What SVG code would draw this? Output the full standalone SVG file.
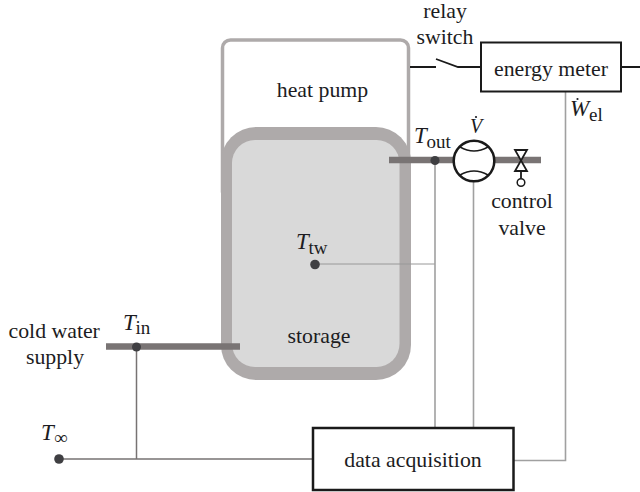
<svg xmlns="http://www.w3.org/2000/svg" width="640" height="492" viewBox="0 0 640 492">
<style>
text{font-family:"Liberation Serif","Times New Roman",serif;font-size:21.800px;fill:#1c1c22}
.m{text-anchor:middle}
.i{font-style:italic;font-size:23px}
.v{font-style:italic;font-size:20px}
.s{font-size:19px}
.thin{fill:none;stroke:#a0a0a0;stroke-width:1.600}
.hair{fill:none;stroke:#989898;stroke-width:1}
.dark{fill:none;stroke:#777373;stroke-width:1.500}
.pipe{fill:none;stroke:#797474;stroke-width:6.500}
.box{fill:#fff;stroke:#1a1a1a;stroke-width:2}
.dot{fill:#3f3f42}
.blk{fill:none;stroke:#1a1a1a;stroke-width:2}
.ov{fill:#1c1c22}
</style>
<g id="heat-pump">
<rect x="222.500" y="40" width="186" height="160" rx="8" fill="#fff" stroke="#aeaaaa" stroke-width="3.500"/>
<text class="m" x="322.500" y="97">heat pump</text>
</g>
<g id="storage">
<rect x="221" y="127" width="190" height="253" rx="35" fill="#aeaaaa"/>
<rect x="232" y="140" width="167.500" height="227" rx="23" fill="#d9d9d9"/>
<text class="m" x="319" y="343">storage</text>
</g>
<g id="connectors">
<path class="hair" d="M315 264H435"/>
<path class="thin" d="M435 160V427M473.500 180V427M565.500 92V460.500H514"/>
<path class="dark" d="M136.500 347V459M59 459H313"/>
<path class="pipe" d="M106 346.500H240M389 160H541"/>
<path class="blk" d="M410 67H436M436 59L458 67H481M621 67H640" style="stroke-width:1.800"/>
</g>
<g id="energy-meter">
<rect class="box" x="481" y="42.500" width="140" height="49"/>
<text class="m" x="551" y="75.500">energy meter</text>
</g>
<g id="data-acquisition">
<rect class="box" x="313" y="428" width="200.500" height="62" style="stroke-width:2.500"/>
<text class="m" x="413" y="467">data acquisition</text>
</g>
<g id="flow-meter">
<circle cx="474" cy="161" r="20.300" fill="#fff" stroke="#1a1a1a" stroke-width="2.500"/>
<path class="blk" d="M460 147Q474 155 488 147M460 175Q474 167 488 175" style="stroke-width:1.500"/>
</g>
<g id="control-valve">
<path d="M515 150H527L515 171H527Z" fill="#fff" stroke="#1a1a1a" stroke-width="1.800"/>
<path class="blk" d="M521 171V178" style="stroke-width:1.800"/>
<circle cx="521" cy="182.500" r="3.800" fill="#fff" stroke="#1a1a1a" stroke-width="1.500"/>
<text class="m" x="522" y="208">control</text>
<text class="m" x="522" y="234.500">valve</text>
</g>
<g id="sensors">
<circle class="dot" cx="435" cy="160.500" r="4.500"/>
<circle class="dot" cx="315" cy="264.500" r="4.800"/>
<circle class="dot" cx="136.500" cy="347" r="4.500"/>
<circle class="dot" cx="59" cy="459" r="4.800"/>
</g>
<g id="labels">
<text class="m" x="445" y="18">relay</text>
<text class="m" x="445" y="44">switch</text>
<text x="8.500" y="338">cold water</text>
<text class="m" x="55" y="364">supply</text>
<text class="i" x="414" y="143">T</text><text class="s" x="426.500" y="148">out</text>
<text class="i" x="296" y="249">T</text><text class="s" x="308.500" y="254">tw</text>
<text class="i" x="123" y="330">T</text><text class="s" x="135.500" y="333.500">in</text>
<text class="i" x="41" y="440">T</text><text class="s" x="54" y="444">∞</text>
<text class="v" x="470" y="133">V</text><circle class="ov" cx="476" cy="117" r="1.100"/>
<text class="i" x="570" y="116">W</text><circle class="ov" cx="577.500" cy="99" r="1.100"/><text class="s" x="589" y="120.500">el</text>
</g>
</svg>
